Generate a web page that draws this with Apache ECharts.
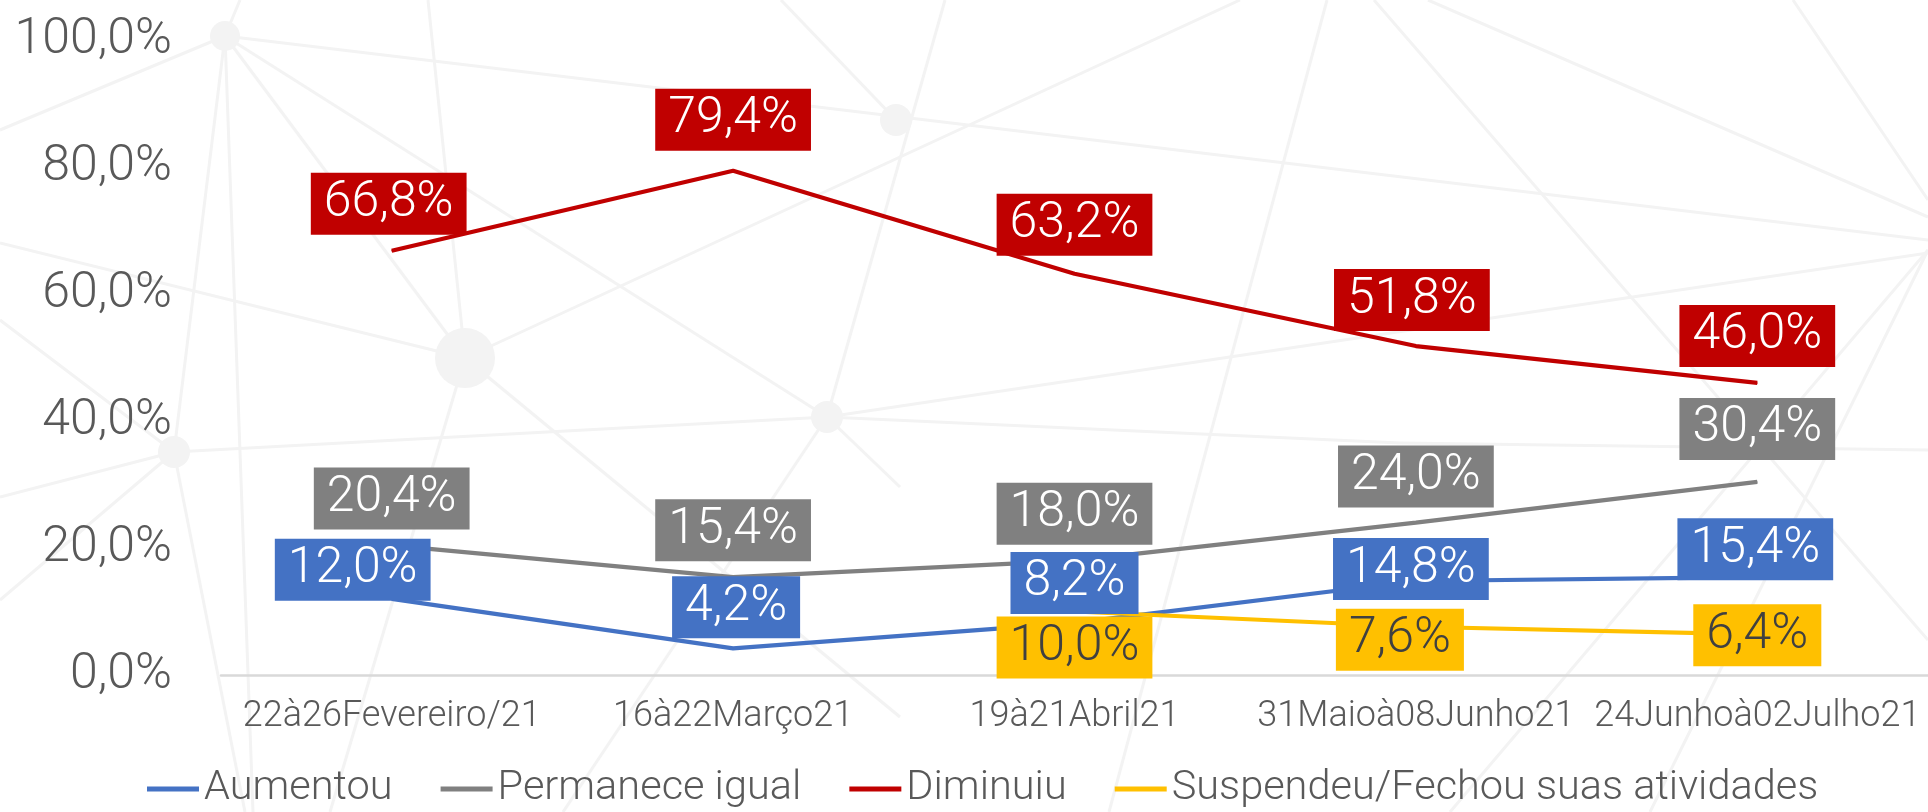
<!DOCTYPE html>
<html>
<head>
<meta charset="utf-8">
<script src="https://cdn.jsdelivr.net/npm/echarts@6/dist/echarts.min.js"></script>
<style>
  html, body { margin: 0; padding: 0; background: #fff; }
  #chart { width: 1928px; height: 812px; }
</style>
</head>
<body>
<div id="chart"></div>
<script>
// dados
const categories = ['22à26Fevereiro/21', '16à22Março21', '19à21Abril21', '31Maioà08Junho21', '24Junhoà02Julho21'];
const aumentou = [12.0, 4.2, 8.2, 14.8, 15.4];
const permanece = [20.4, 15.4, 18.0, 24.0, 30.4];
const diminuiu = [66.8, 79.4, 63.2, 51.8, 46.0];
const suspendeu = [null, null, 10.0, 7.6, 6.4];
const yMin = 0, yMax = 100, yStep = 20;

// deslocamento dos rótulos (px) em relação ao ponto
const nudge = {
    aumentou: [[-39, -29], [3, -41], [0, -40], [-5, -12], [-2, -28]],
    permanece: [[0, -47], [0, -47], [0, -47], [0, -46], [0, -53]],
    diminuiu: [[-3, -47], [0, -51], [0, -49], [-4, -46], [0, -47]],
    suspendeu: [[0, 0], [0, 0], [0, 36], [-16, 13], [0, 1]]
};

const FONT = 'Roboto';
const pct = v => v.toFixed(1).replace('.', ',') + '%';

function makeSeries(name, values, color, textColor, offs) {
    return {
        name: name,
        type: 'line',
        symbol: 'circle',
        symbolSize: 1,
        showSymbol: true,
        lineStyle: { color: color, width: 4.2 },
        itemStyle: { color: color },
        data: values.map((v, i) => ({
            value: v,
            label: { offset: offs[i] }
        })),
        label: {
            show: true,
            position: 'inside',
            formatter: p => pct(p.value),
            backgroundColor: color,
            color: textColor,
            fontFamily: FONT,
            fontWeight: 300,
            fontSize: 50,
            lineHeight: 50,
            padding: [6, 13, 6, 13]
        }
    };
}

// fundo decorativo (rede de linhas claras)
const A = [225, 36], B = [465, 358], C = [896, 120], D = [827, 417], E = [174, 452];
const bgLines = [
    [A, B], [A, [253, 812]], [A, [0, 130]], [A, [1928, 240]], [A, [240, 0]], [A, D], [A, E],
    [[781, 0], C], [[945, 0], D], [D, [563, 812]], [D, [900, 487]], [[1240, 0], B], [D, [1928, 253]],
    [E, D], [D, [1400, 443]], [[1400, 443], [1928, 450]], [[1327, 0], [1109, 812]],
    [[1374, 0], [1928, 640]], [[1428, 0], [1928, 217]], [[1793, 0], [1928, 200]],
    [E, [0, 497]], [E, [0, 600]], [E, [245, 812]], [[428, 0], B], [B, [0, 243]],
    [B, [330, 812]], [B, [900, 717]], [[1928, 250], [1450, 812]], [[1928, 250], [1650, 812]],
    [[0, 320], E]
];
const bgNodes = [[A, 15], [B, 30], [C, 16], [D, 16], [E, 16]];
const graphics = bgLines.map(l => ({
    type: 'line', silent: true, z: -10,
    shape: { x1: l[0][0], y1: l[0][1], x2: l[1][0], y2: l[1][1] },
    style: { stroke: '#f3f3f3', lineWidth: 3 }
})).concat(bgNodes.map(n => ({
    type: 'circle', silent: true, z: -10,
    shape: { cx: n[0][0], cy: n[0][1], r: n[1] },
    style: { fill: '#f3f3f3' }
})));

const chart = echarts.init(document.getElementById('chart'));
const option = {
    backgroundColor: '#ffffff',
    animation: false,
    graphic: graphics,
    grid: { left: 221, right: -13, top: 40, bottom: 137 },
    legend: {
        left: 142,
        top: 763,
        icon: 'rect',
        itemWidth: 52,
        itemHeight: 5,
        itemGap: 48,
        textStyle: { fontFamily: FONT, fontWeight: 300, fontSize: 41.5, color: '#595959' },
        data: ['Aumentou', 'Permanece igual', 'Diminuiu', 'Suspendeu/Fechou suas atividades']
    },
    xAxis: {
        type: 'category',
        data: categories,
        boundaryGap: true,
        axisLine: { lineStyle: { color: '#d9d9d9', width: 2.5 } },
        axisTick: { show: false },
        axisLabel: {
            interval: 0, margin: 24,
            fontFamily: FONT, fontWeight: 300, fontSize: 36, color: '#595959'
        }
    },
    yAxis: {
        type: 'value',
        min: yMin, max: yMax, interval: yStep,
        axisLine: { show: false },
        axisTick: { show: false },
        splitLine: { show: false },
        axisLabel: {
            margin: 49,
            formatter: v => pct(v),
            fontFamily: FONT, fontWeight: 300, fontSize: 50, color: '#595959'
        }
    },
    series: [
        makeSeries('Aumentou', aumentou, '#4472C4', '#ffffff', nudge.aumentou),
        makeSeries('Permanece igual', permanece, '#808080', '#ffffff', nudge.permanece),
        makeSeries('Diminuiu', diminuiu, '#C00000', '#ffffff', nudge.diminuiu),
        makeSeries('Suspendeu/Fechou suas atividades', suspendeu, '#FFC000', '#404040', nudge.suspendeu)
    ]
};
chart.setOption(option);
</script>
</body>
</html>
